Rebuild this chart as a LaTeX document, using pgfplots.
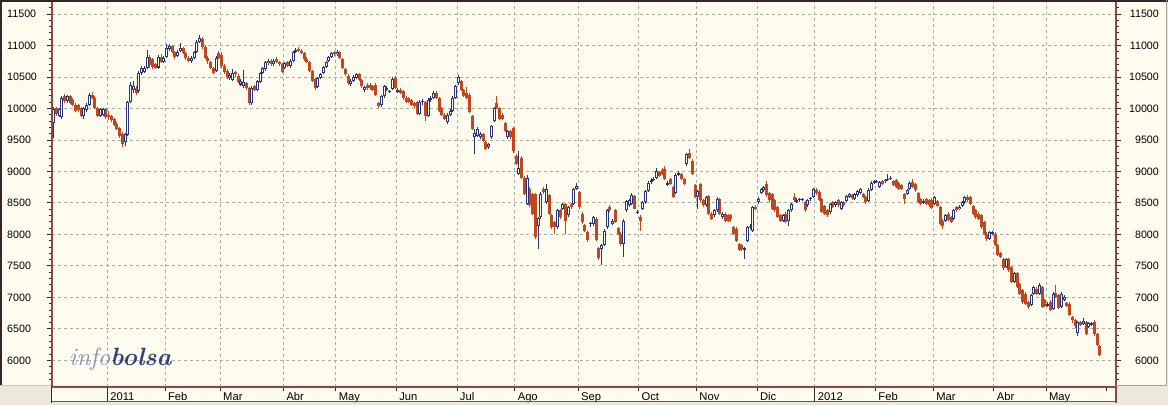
\documentclass[border=0pt]{standalone}
\usepackage{pgfplots}
\pgfplotsset{compat=1.18}
\usepackage{pgfplotstable}
\usepackage{fontspec}
\setsansfont{Liberation Sans}
\definecolor{cream}{RGB}{254,251,239}
\definecolor{wingray}{RGB}{236,233,218}
\definecolor{upc}{RGB}{42,52,120}
\definecolor{dnc}{RGB}{192,72,32}
\definecolor{axisred}{RGB}{140,72,72}
\definecolor{gridc}{RGB}{172,172,162}
\definecolor{tickc}{RGB}{50,40,40}
\definecolor{logolight}{RGB}{136,144,178}
\definecolor{logodark}{RGB}{48,66,122}
\definecolor{framedark}{RGB}{55,38,38}
\definecolor{paneledge}{RGB}{175,160,150}
\newcommand{\ylabfont}{\sffamily\fontsize{10.7}{12}\selectfont}
\newcommand{\datefont}{\sffamily\fontsize{11.2}{12}\selectfont}

\pgfplotstableread{
d o h l c
-20 9775 10020 9537 9985
-19 10000 10030 9880 9905
-18 9880 10010 9860 9990
-17 9860 10200 9830 10170
-16 10195 10230 10090 10115
-15 10115 10210 10090 10190
-14 10190 10220 10070 10090
-13 10140 10160 10040 10060
-12 10060 10080 9940 9960
-11 10050 10070 9950 9970
-10 10010 10030 9860 9880
-9 9880 10030 9840 10010
-8 9970 10080 9950 10060
-7 10060 10250 10040 10220
-6 10220 10260 10150 10170
-5 10170 10190 9990 10010
-4 10010 10030 9860 9880
-3 9880 10000 9860 9985
-2 9900 10010 9880 9990
-1 9990 10010 9840 9860
0 9900 9960 9820 9860
1 9880 9900 9790 9810
2 9830 9850 9720 9740
3 9760 9780 9660 9680
4 9690 9710 9530 9560
5 9600 9620 9380 9430
6 9460 9610 9400 9590
7 9580 10120 9570 10100
8 10100 10420 10080 10380
9 10300 10430 10240 10360
10 10320 10350 10210 10240
11 10270 10600 10250 10560
12 10570 10680 10530 10640
13 10580 10670 10560 10650
14 10640 10930 10620 10820
15 10820 10850 10650 10690
16 10780 10800 10620 10660
17 10700 10720 10630 10650
18 10650 10850 10620 10820
19 10820 10860 10720 10740
20 10740 10830 10720 10806
21 10820 11020 10800 10960
22 10950 11030 10920 10990
23 10990 11010 10880 10900
24 10900 10920 10790 10820
25 10830 10930 10810 10900
26 10920 11040 10900 10960
27 10960 10980 10860 10880
28 10880 10900 10770 10800
29 10800 10830 10730 10760
30 10760 10830 10720 10800
31 10800 10920 10780 10900
32 10900 11080 10880 11060
33 11060 11170 11040 11120
34 11110 11130 10950 10980
35 10980 11000 10780 10800
36 10800 10830 10700 10750
37 10740 10760 10620 10640
38 10640 10660 10540 10570
39 10600 10830 10580 10800
40 10880 10920 10780 10800
41 10850 10900 10650 10680
42 10680 10700 10550 10580
43 10600 10620 10470 10500
44 10480 10560 10450 10530
45 10450 10620 10430 10570
46 10580 10600 10500 10540
47 10520 10540 10400 10420
48 10380 10470 10350 10440
49 10350 10610 10330 10420
50 10400 10420 10300 10330
51 10330 10340 10050 10080
52 10080 10350 10060 10320
53 10360 10380 10270 10300
54 10300 10450 10280 10430
55 10420 10580 10400 10560
56 10560 10660 10540 10640
57 10620 10760 10600 10740
58 10720 10790 10690 10760
59 10760 10780 10680 10700
60 10700 10790 10680 10760
61 10790 10810 10720 10740
62 10740 10760 10680 10700
63 10700 10720 10560 10576
64 10640 10740 10620 10720
65 10740 10760 10660 10680
66 10680 10780 10650 10750
67 10750 10920 10730 10900
68 10900 10960 10880 10930
69 10940 10980 10890 10910
70 10920 10950 10860 10880
71 10880 10900 10760 10780
72 10790 10810 10720 10740
73 10740 10760 10580 10600
74 10600 10610 10420 10440
75 10460 10480 10290 10330
76 10340 10500 10320 10480
77 10490 10570 10470 10550
78 10560 10680 10540 10660
79 10660 10760 10640 10740
80 10760 10840 10740 10820
81 10820 10900 10800 10880
82 10900 10920 10840 10870
83 10860 10930 10840 10900
84 10890 10910 10780 10800
85 10780 10800 10620 10640
86 10620 10640 10520 10540
87 10520 10540 10380 10400
88 10390 10460 10360 10440
89 10440 10530 10420 10500
90 10490 10570 10470 10540
91 10540 10560 10430 10450
92 10450 10470 10330 10350
93 10290 10360 10260 10340
94 10380 10400 10300 10320
95 10370 10400 10300 10330
96 10360 10380 10280 10300
97 10380 10400 10200 10220
98 10080 10100 10000 10040
99 10050 10220 10030 10200
100 10190 10370 10170 10350
101 10300 10360 10280 10330
102 10260 10300 10240 10280
103 10310 10500 10300 10470
104 10490 10510 10310 10330
105 10260 10320 10240 10290
106 10300 10320 10230 10250
107 10280 10300 10140 10160
108 10160 10190 10090 10110
109 10160 10180 10090 10110
110 10130 10150 10040 10060
111 10080 10100 10010 10040
112 10100 10120 9890 9910
113 9910 10130 9890 10100
114 10100 10150 10050 10120
115 10110 10120 9800 9880
116 9880 10170 9860 10140
117 10140 10200 10110 10170
118 10170 10280 10150 10250
119 10250 10270 10150 10170
120 10170 10180 9940 9960
121 10010 10030 9880 9900
122 9900 9920 9810 9830
123 9780 9920 9750 9900
124 9900 9990 9880 9960
125 9960 10190 9940 10170
126 10170 10380 10150 10350
127 10400 10530 10380 10500
128 10430 10450 10280 10300
129 10300 10310 10180 10195
130 10250 10340 10150 10170
131 10220 10240 9920 9940
132 9880 9900 9650 9670
133 9540 9680 9270 9610
134 9560 9700 9540 9670
135 9540 9620 9510 9590
136 9590 9610 9470 9490
137 9460 9480 9340 9360
138 9380 9450 9360 9430
139 9540 9740 9520 9720
140 9800 10030 9780 10010
141 10090 10190 9990 10010
142 10010 10030 9810 9830
143 9900 9920 9810 9830
144 9770 9790 9620 9640
145 9540 9660 9520 9640
146 9640 9660 9520 9540
147 9690 9710 9300 9330
148 9250 9270 9100 9120
149 8960 9330 8950 9060
150 9220 9240 8880 8900
151 8900 8920 8620 8640
152 8480 8950 8460 8900
153 8720 8760 8440 8460
154 8640 8660 8300 8330
155 8640 8660 7930 7960
156 8140 8280 7770 8260
157 8270 8680 8250 8640
158 8720 8760 8640 8670
159 8510 8800 8490 8720
160 8620 8640 8310 8330
161 8300 8320 8080 8120
162 8200 8220 8010 8110
163 8110 8400 8090 8380
164 8380 8400 8250 8270
165 8400 8500 8380 8480
166 8480 8500 8010 8220
167 8300 8450 8280 8430
168 8480 8500 8410 8430
169 8480 8740 8460 8720
170 8720 8810 8700 8770
171 8670 8690 8410 8430
172 8330 8350 8160 8190
173 8150 8170 8040 8060
174 8040 8060 7880 7905
175 8160 8200 8120 8180
176 8160 8290 8140 8270
177 8250 8270 7890 7910
178 7780 7800 7600 7620
179 7770 7850 7510 7830
180 7830 8080 7810 8060
181 8110 8400 8090 8380
182 8430 8460 8360 8380
183 8170 8240 8150 8220
184 8380 8400 8180 8200
185 8100 8120 7990 8010
186 8010 8030 7820 7840
187 7850 8240 7640 8220
188 8380 8550 8360 8530
189 8460 8560 8440 8540
190 8480 8650 8460 8620
191 8610 8630 8400 8410
192 8340 8380 8320 8360
193 8280 8300 8060 8220
194 8400 8530 8380 8510
195 8510 8710 8490 8690
196 8690 8840 8670 8820
197 8830 8890 8800 8860
198 8860 8910 8840 8880
199 8900 9060 8880 9010
200 8990 9010 8910 8930
201 9030 9050 8940 8960
202 9040 9090 8860 8880
203 8790 8840 8770 8810
204 8880 8900 8780 8800
205 8750 8770 8580 8600
206 8660 8970 8640 8950
207 8950 9000 8930 8980
208 8960 8980 8860 8880
209 8880 8900 8780 8800
210 9110 9300 9090 9270
211 9300 9350 9200 9220
212 9170 9190 8940 8955
213 8790 8800 8570 8590
214 8590 8710 8410 8690
215 8800 8820 8520 8540
216 8540 8560 8440 8460
217 8460 8610 8440 8590
218 8610 8630 8310 8330
219 8330 8350 8230 8250
220 8300 8400 8280 8380
221 8380 8590 8360 8560
222 8560 8580 8310 8330
223 8270 8350 8250 8320
224 8330 8350 8200 8220
225 8300 8320 8200 8220
226 8300 8320 8200 8240
227 8110 8130 7990 8010
228 8090 8110 7880 7900
229 7850 7870 7730 7750
230 7830 7850 7740 7760
231 7750 7800 7610 7780
232 7900 8130 7880 8110
233 8110 8160 8090 8140
234 8060 8450 8040 8430
235 8440 8470 8390 8410
236 8510 8590 8490 8560
237 8660 8740 8640 8720
238 8700 8770 8680 8750
239 8800 8850 8600 8620
240 8660 8680 8520 8540
241 8640 8660 8390 8410
242 8540 8560 8360 8380
243 8430 8450 8260 8280
244 8300 8320 8200 8220
245 8220 8320 8200 8300
246 8330 8350 8180 8200
247 8220 8400 8140 8380
248 8380 8500 8360 8480
249 8590 8650 8520 8540
250 8520 8570 8500 8540
251 8540 8580 8520 8555
252 8545 8580 8530 8560
253 8510 8530 8360 8380
254 8460 8560 8440 8540
255 8560 8600 8530 8570
256 8590 8740 8570 8720
257 8700 8730 8620 8650
258 8680 8700 8530 8550
259 8560 8580 8340 8360
260 8450 8470 8310 8330
261 8380 8400 8280 8300
262 8350 8500 8330 8480
263 8510 8530 8420 8440
264 8460 8530 8440 8510
265 8540 8560 8440 8460
266 8410 8530 8390 8510
267 8510 8530 8440 8460
268 8530 8630 8510 8610
269 8590 8660 8570 8640
270 8620 8640 8550 8570
271 8560 8660 8540 8640
272 8620 8710 8600 8690
273 8660 8740 8640 8720
274 8640 8660 8570 8590
275 8590 8610 8490 8510
276 8530 8730 8510 8710
277 8710 8840 8690 8820
278 8820 8860 8800 8840
279 8830 8870 8810 8850
280 8760 8850 8740 8830
281 8850 8870 8780 8800
282 8840 8880 8820 8860
283 8860 8960 8850 8880
284 8880 8930 8860 8900
285 8850 8870 8770 8790
286 8860 8880 8740 8760
287 8810 8830 8700 8720
288 8780 8800 8700 8720
289 8640 8660 8480 8560
290 8640 8720 8620 8700
291 8720 8840 8700 8820
292 8830 8880 8730 8750
293 8800 8820 8680 8700
294 8650 8670 8500 8520
295 8560 8580 8460 8480
296 8500 8560 8480 8530
297 8560 8580 8460 8480
298 8540 8560 8440 8460
299 8550 8570 8400 8420
300 8480 8610 8460 8590
301 8530 8550 8430 8450
302 8430 8450 8150 8170
303 8220 8240 8090 8140
304 8220 8320 8200 8300
305 8330 8350 8210 8230
306 8270 8290 8180 8200
307 8250 8400 8230 8380
308 8430 8450 8360 8380
309 8400 8460 8380 8440
310 8450 8530 8430 8510
311 8510 8610 8490 8590
312 8590 8620 8520 8540
313 8590 8610 8460 8480
314 8450 8470 8310 8330
315 8380 8400 8250 8270
316 8330 8350 8230 8250
317 8300 8320 8090 8110
318 8190 8210 7990 8010
319 8010 8030 7900 7930
320 7930 8060 7910 8040
321 8010 8060 7990 8030
322 8010 8030 7810 7830
323 7830 7850 7650 7670
324 7700 7720 7620 7640
325 7610 7630 7440 7460
326 7480 7630 7460 7610
327 7610 7630 7410 7430
328 7480 7500 7230 7250
329 7250 7400 7230 7380
330 7380 7400 7150 7170
331 7210 7230 7040 7060
332 7110 7130 6900 6930
333 7060 7080 6880 6900
334 6920 6940 6820 6850
335 6880 7050 6860 7030
336 7060 7180 7040 7160
337 7140 7160 7040 7060
338 7060 7220 7040 7190
339 7160 7180 6830 6850
340 6950 6970 6850 6870
341 6870 6930 6850 6900
342 6930 6950 6780 6800
343 6820 7080 6800 7060
344 7070 7190 6990 7010
345 7030 7050 6810 6830
346 6850 7080 6830 7060
347 6960 7030 6940 7000
348 6910 6930 6840 6860
349 6900 6920 6700 6720
350 6680 6700 6600 6640
351 6640 6660 6520 6540
352 6430 6630 6380 6610
353 6610 6630 6540 6560
354 6580 6670 6560 6630
355 6610 6630 6400 6420
356 6530 6610 6510 6590
357 6560 6610 6540 6590
358 6610 6640 6390 6410
359 6420 6440 6230 6250
360 6220 6240 6070 6090
}\ibex

\begin{document}
\begin{tikzpicture}
% window background and panels
\fill[wingray] (-51.7pt,-18.3pt) rectangle (1116.3pt,386.7pt);
\fill[cream] (-51.7pt,1.7pt) rectangle (1114.8pt,386.7pt);
\fill[cream] (0pt,-15.3pt) rectangle (1064.3pt,0pt);
\begin{axis}[
  at={(0pt,0pt)}, anchor=south west, scale only axis,
  width=1064.3pt, height=385pt,
  xmin=-20.7, xmax=365.9, ymin=5581, ymax=11695,
  axis line style={draw=none},
  tick align=outside,
  ytick={6000,6500,...,11500},
  minor ytick={5600,5700,...,11600},
  ytick pos=both, yticklabels={},
  xtick={-0.5,20.5,40.5,63.5,82.5,104.5,126.5,147.5,170.5,192.5,213.5,235.5,256.5,278.5,299.5,321.5,340.5},
  xtick pos=bottom, xticklabels={},
  xmajorgrids, ymajorgrids,
  major grid style={gridc, dash pattern=on 3pt off 3pt, line width=0.8pt},
  major tick length=4.5pt, minor tick length=2.5pt,
  tick style={tickc, line width=0.8pt},
  clip mode=individual,
]
% wicks
\addplot[upc, line width=1pt, quiver={u=0, v={\thisrow{h}-\thisrow{l}}},
  restrict expr to domain={\thisrow{c}-\thisrow{o}}{0:100000}]
  table[x=d, y=l] {\ibex};
\addplot[dnc, line width=1pt, quiver={u=0, v={\thisrow{h}-\thisrow{l}}},
  restrict expr to domain={\thisrow{c}-\thisrow{o}}{-100000:-0.5}]
  table[x=d, y=l] {\ibex};
% falling bodies (filled)
\addplot[dnc, line width=3pt, quiver={u=0, v={\thisrow{o}-\thisrow{c}}},
  restrict expr to domain={\thisrow{c}-\thisrow{o}}{-100000:-0.5}]
  table[x=d, y=c] {\ibex};
% rising bodies (hollow)
\addplot[upc, line width=3pt, quiver={u=0, v={\thisrow{c}-\thisrow{o}}},
  restrict expr to domain={\thisrow{c}-\thisrow{o}}{0:100000}]
  table[x=d, y=o] {\ibex};
\addplot[cream, line width=1pt, quiver={u=0, v={\thisrow{c}-\thisrow{o}-32}},
  restrict expr to domain={\thisrow{c}-\thisrow{o}}{40:100000}]
  table[x=d, y expr={\thisrow{o}+16}] {\ibex};
% value labels, left and right
\pgfplotsinvokeforeach{6000,6500,...,11500}{
  \node[anchor=west, inner sep=0pt, font=\ylabfont, xshift=-44.7pt] at (axis cs:-20.7,#1) {#1};
  \node[anchor=east, inner sep=0pt, font=\ylabfont, xshift=43pt] at (axis cs:365.9,#1) {#1};
}
% month labels
\newcommand{\mlab}[2]{\node[anchor=base west, inner sep=0pt, font=\datefont, xshift=2.8pt, yshift=-14pt] at (axis cs:#1,5581) {#2};}
\mlab{-0.5}{2011}\mlab{20.5}{Feb}\mlab{40.5}{Mar}\mlab{63.5}{Abr}\mlab{82.5}{May}
\mlab{104.5}{Jun}\mlab{126.5}{Jul}\mlab{147.5}{Ago}\mlab{170.5}{Sep}\mlab{192.5}{Oct}
\mlab{213.5}{Nov}\mlab{235.5}{Dic}\mlab{256.5}{2012}\mlab{278.5}{Feb}\mlab{299.5}{Mar}
\mlab{321.5}{Abr}\mlab{340.5}{May}
\draw[tickc, line width=1pt] (axis cs:-0.5,5581) -- ++(0pt,-15.5pt);
\draw[tickc, line width=1pt] (axis cs:256.5,5581) -- ++(0pt,-15.5pt);
\draw[tickc, line width=0.8pt] (axis cs:362.5,5581) -- ++(0pt,-4.5pt);
\end{axis}
% frame lines
\draw[axisred, line width=2pt] (0pt,-0.3pt) -- (0pt,386.7pt);
\draw[axisred, line width=2pt] (1064.3pt,-16pt) -- (1064.3pt,386.7pt);
\draw[axisred, line width=2pt] (-1pt,-0.3pt) -- (1065.3pt,-0.3pt);
\draw[axisred, line width=1.5pt] (0pt,-15pt) -- (1065pt,-15pt);
\draw[framedark, line width=1.5pt] (0pt,-16pt) -- (0pt,0pt);
\draw[framedark, line width=2pt] (-51.7pt,385.7pt) -- (1116.3pt,385.7pt);
\draw[framedark, line width=1.5pt] (-50.7pt,1.7pt) -- (-50.7pt,386.7pt);
\draw[paneledge, line width=1pt] (1114.8pt,1.2pt) -- (1114.8pt,386.7pt);
\draw[paneledge, line width=1pt] (1064.3pt,1.2pt) -- (1115.3pt,1.2pt);
\draw[paneledge!60, line width=0.8pt] (-51.7pt,1.3pt) -- (-1pt,1.3pt);
% logo
\node[anchor=base west, inner sep=0pt] at (17.3pt,21.7pt)
  {\fontsize{25}{25}\selectfont\itshape\color{logolight}info\bfseries\color{logodark}bolsa};
\pgfresetboundingbox
\path[use as bounding box] (-51.7pt,-18.3pt) rectangle (1116.3pt,386.7pt);
\end{tikzpicture}
\end{document}
